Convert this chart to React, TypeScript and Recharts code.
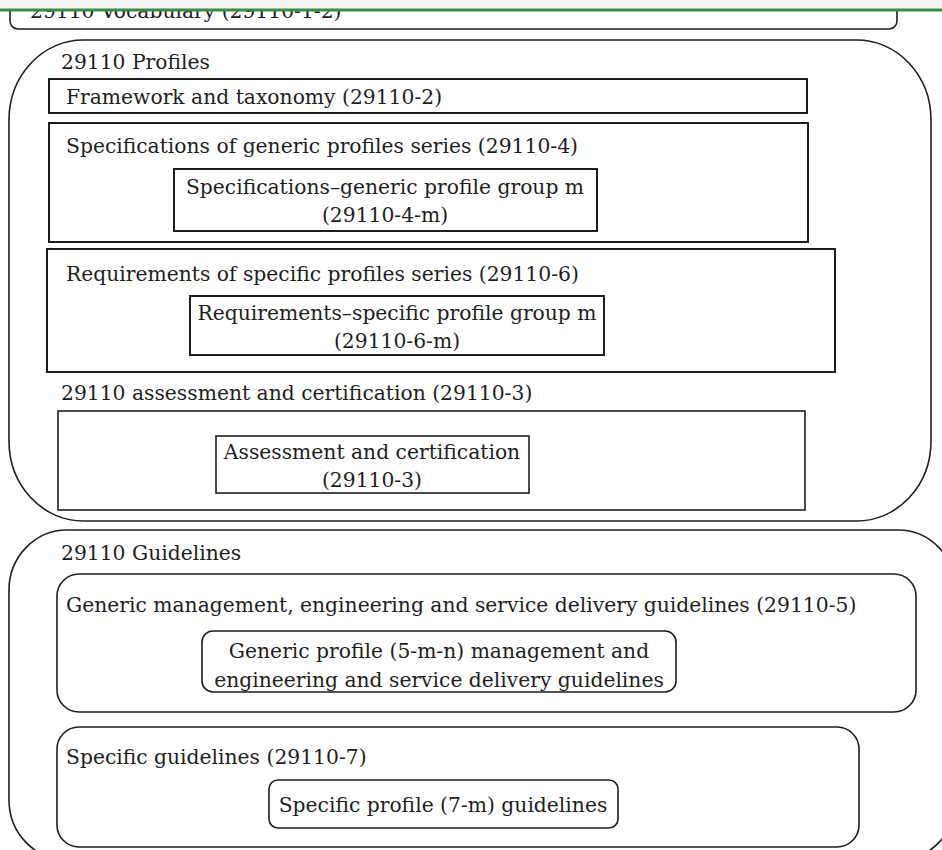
import { ScatterChart, Scatter, XAxis, YAxis, ReferenceArea, ReferenceLine } from "recharts";

// diagram coordinates (x: 0..942, y: 0..850, y grows downward)
const boxes = [
  { id: "vocabulary", x1: 10, x2: 897, y1: -30, y2: 29, rx: 8, ry: 8 },
  { id: "profiles", x1: 9, x2: 931, y1: 40, y2: 521, rx: 74, ry: 80 },
  { id: "framework", x1: 49, x2: 807, y1: 79, y2: 113, rx: 0, ry: 0 },
  { id: "specSeries", x1: 49, x2: 808, y1: 123, y2: 242, rx: 0, ry: 0 },
  { id: "specGroup", x1: 174, x2: 597, y1: 169, y2: 231, rx: 0, ry: 0 },
  { id: "reqSeries", x1: 47, x2: 835, y1: 249, y2: 372, rx: 0, ry: 0 },
  { id: "reqGroup", x1: 190, x2: 604, y1: 296, y2: 355, rx: 0, ry: 0 },
  { id: "assessOuter", x1: 58, x2: 805, y1: 411, y2: 510, rx: 0, ry: 0 },
  { id: "assessInner", x1: 216, x2: 529, y1: 436, y2: 493, rx: 0, ry: 0 },
  { id: "guidelines", x1: 9, x2: 956, y1: 530, y2: 860, rx: 58, ry: 60 },
  { id: "genericGuide", x1: 57, x2: 916, y1: 574, y2: 712, rx: 22, ry: 22 },
  { id: "genericProfile", x1: 202, x2: 676, y1: 631, y2: 692, rx: 11, ry: 11 },
  { id: "specificGuide", x1: 57, x2: 859, y1: 727, y2: 847, rx: 22, ry: 22 },
  { id: "specificProfile", x1: 269, x2: 618, y1: 780, y2: 828, rx: 9, ry: 9 },
];

const heavyBoxes = ["framework", "specSeries", "specGroup", "reqSeries", "reqGroup"];

// the first box is cut off by the page strip, so its title is drawn with the box
const vocabularyTitle = { text: "29110 Vocabulary (29110-1-2)", x: 30, y: 11 };

const labels = [
  { text: "29110 Profiles", x: 61, y: 62, anchor: "start" },
  { text: "Framework and taxonomy (29110-2)", x: 66, y: 97, anchor: "start" },
  { text: "Specifications of generic profiles series (29110-4)", x: 66, y: 146, anchor: "start" },
  { text: "Specifications\u2013generic profile group m", x: 385, y: 187, anchor: "middle" },
  { text: "(29110-4-m)", x: 385, y: 215, anchor: "middle" },
  { text: "Requirements of specific profiles series (29110-6)", x: 66, y: 274, anchor: "start" },
  { text: "Requirements\u2013specific profile group m", x: 397, y: 313, anchor: "middle" },
  { text: "(29110-6-m)", x: 397, y: 341, anchor: "middle" },
  { text: "29110 assessment and certification (29110-3)", x: 61, y: 393, anchor: "start" },
  { text: "Assessment and certification", x: 372, y: 452, anchor: "middle" },
  { text: "(29110-3)", x: 372, y: 480, anchor: "middle" },
  { text: "29110 Guidelines", x: 61, y: 553, anchor: "start" },
  { text: "Generic management, engineering and service delivery guidelines (29110-5)", x: 66, y: 605, anchor: "start" },
  { text: "Generic profile (5-m-n) management and", x: 439, y: 651, anchor: "middle" },
  { text: "engineering and service delivery guidelines", x: 439, y: 680, anchor: "middle" },
  { text: "Specific guidelines (29110-7)", x: 66, y: 757, anchor: "start" },
  { text: "Specific profile (7-m) guidelines", x: 443, y: 805, anchor: "middle" },
];

const FONT = "'DejaVu Serif', serif";
const FONT_SIZE = 20.3;
const INK = "#1e1e1e";

const LabelShape = (p: any) => (
  <text
    x={p.cx}
    y={p.cy}
    textAnchor={p.payload.anchor}
    dominantBaseline="central"
    fontFamily={FONT}
    fontSize={FONT_SIZE}
    fill={INK}
  >
    {p.payload.text}
  </text>
);

export default function App() {
  return (
    <div style={{ position: "absolute", left: 0, top: 0, background: "#fff" }}>
      <ScatterChart width={942} height={850} margin={{ top: 0, right: 0, bottom: 0, left: 0 }}>
        <XAxis type="number" dataKey="x" domain={[0, 942]} hide />
        <YAxis type="number" dataKey="y" domain={[0, 850]} reversed hide />
        {boxes.map((b) => (
          <ReferenceArea
            key={b.id}
            x1={b.x1}
            x2={b.x2}
            y1={b.y1}
            y2={b.y2}
            ifOverflow="visible"
            shape={(p: any) => (
              <g>
                <rect
                  x={p.x}
                  y={p.y}
                  width={p.width}
                  height={p.height}
                  rx={b.rx}
                  ry={b.ry}
                  fill="#fff"
                  stroke={INK}
                  strokeWidth={heavyBoxes.includes(b.id) ? 2 : 1.6}
                />
                {b.id === "vocabulary" && (
                  <text
                    x={p.x + (vocabularyTitle.x - b.x1)}
                    y={p.y + p.height - (b.y2 - vocabularyTitle.y)}
                    dominantBaseline="central"
                    fontFamily={FONT}
                    fontSize={FONT_SIZE}
                    fill={INK}
                  >
                    {vocabularyTitle.text}
                  </text>
                )}
              </g>
            )}
          />
        ))}
        {/* page strip above the figure */}
        <ReferenceArea x1={0} x2={942} y1={-5} y2={9} ifOverflow="visible" fill="#f4f4f4" fillOpacity={1} stroke="none" />
        <ReferenceLine y={10} stroke="#3b8a4c" strokeWidth={3} ifOverflow="visible" />
        <Scatter data={labels} shape={LabelShape} isAnimationActive={false} />
      </ScatterChart>
    </div>
  );
}
